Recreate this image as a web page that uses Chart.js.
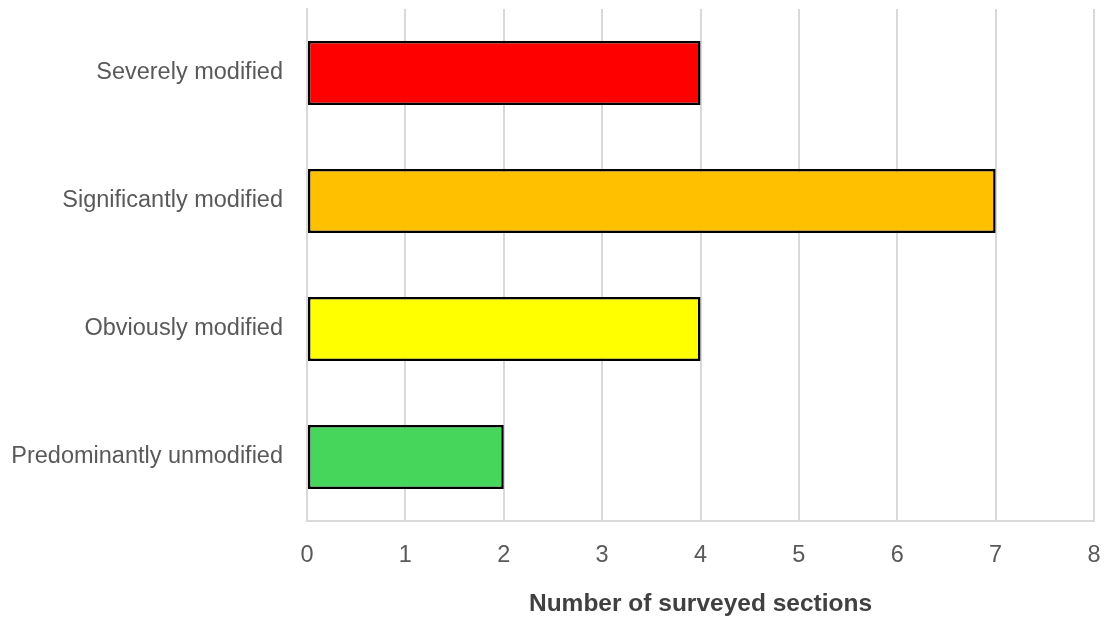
<!DOCTYPE html>
<html>
<head>
<meta charset="utf-8">
<script src="https://cdn.jsdelivr.net/npm/chart.js@4.4.1/dist/chart.umd.min.js"></script>
<style>
  html, body { margin: 0; padding: 0; background: #ffffff; }
  #wrap { width: 1105px; height: 619px; position: relative; }
</style>
</head>
<body>
<div id="wrap"><canvas id="chart" width="1105" height="619"></canvas></div>
<script>
// Survey results: number of river sections per modification class
const categories = ['Severely modified', 'Significantly modified', 'Obviously modified', 'Predominantly unmodified'];
const sectionCounts = [4, 7, 4, 2];
const barColors = ['#FF0000', '#FFC000', '#FFFF00', '#46D65C'];
const xTicks = [0, 1, 2, 3, 4, 5, 6, 7, 8];
const xTitle = 'Number of surveyed sections';

const fontFamily = '"Liberation Sans", Arial, sans-serif';
const labelFont = { family: fontFamily, size: 23.5 };
const gridColor = '#d9d9d9';

new Chart(document.getElementById('chart'), {
  type: 'bar',
  data: {
    labels: categories,
    datasets: [{
      data: sectionCounts,
      backgroundColor: barColors,
      borderColor: '#000000',
      borderWidth: 2.5,
      borderSkipped: false,
      categoryPercentage: 1.0,
      barPercentage: 0.5
    }]
  },
  options: {
    indexAxis: 'y',
    responsive: false,
    animation: false,
    layout: { padding: { top: 9, right: 11, left: 0, bottom: 0 } },
    plugins: { legend: { display: false }, tooltip: { enabled: false } },
    scales: {
      x: {
        min: 0,
        max: 8,
        afterBuildTicks: (axis) => { axis.ticks = xTicks.map(v => ({ value: v })); },
        afterFit: (axis) => {
          axis.height = 98;
          axis.paddingLeft = 0;
          axis.paddingRight = 0;
        },
        grid: { color: gridColor, lineWidth: 2, drawTicks: false },
        border: { color: gridColor, width: 2 },
        ticks: { color: '#595959', font: labelFont, padding: 20 },
        title: {
          display: true,
          text: xTitle,
          color: '#404040',
          font: { family: fontFamily, size: 24.5, weight: 'bold' },
          padding: { top: 6, bottom: 0 }
        }
      },
      y: {
        afterFit: (axis) => {
          axis.width = 307;
          axis.paddingTop = 0;
          axis.paddingBottom = 0;
        },
        grid: { display: false, drawTicks: false },
        border: { color: gridColor, width: 2 },
        ticks: { color: '#595959', font: labelFont, padding: 24 }
      }
    }
  }
});
</script>
</body>
</html>
